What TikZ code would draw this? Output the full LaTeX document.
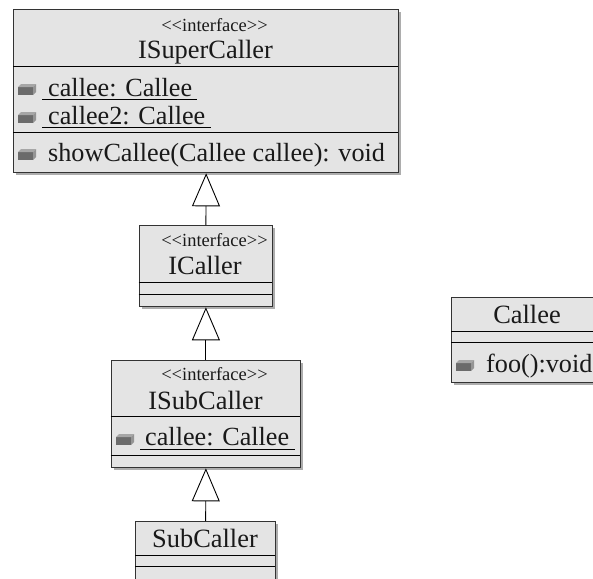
\documentclass[tikz,border=0pt]{standalone}
\usepackage{fontspec}
\setmainfont{Liberation Serif}[Ligatures=NoCommon]
\usetikzlibrary{arrows.meta}
\definecolor{boxfill}{gray}{0.895}
\definecolor{shadowc}{gray}{0.68}
\definecolor{edgec}{gray}{0.2}
\tikzset{
  umlbox/.style={draw=edgec,line width=1.3pt,fill=boxfill,rectangle,inner sep=0pt,anchor=north west},
  divider/.style={line width=0.9pt,black},
  inherit/.style={line width=0.9pt,black,-{Triangle[open,length=33pt,width=28pt,fill=white]}},
  nametext/.style={font=\fontsize{26.4}{26.4}\selectfont,inner sep=0pt,text=black!90,anchor=base},
  stereo/.style={font=\fontsize{18.5}{18.5}\selectfont,inner sep=0pt,text=black!90,anchor=base},
  member/.style={font=\fontsize{26.2}{26.2}\selectfont,inner sep=0pt,text=black!90,anchor=base west},
  uline/.style={line width=0.9pt,black}
}
\newcommand{\umlicon}[2]{%
  \fill[black!58] (#1,#2) -- (#1+15,#2) -- (#1+15,#2-8) -- (#1,#2-8) -- cycle;
  \fill[black!35] (#1,#2-8) -- (#1+3,#2-11) -- (#1+18,#2-11) -- (#1+15,#2-8) -- cycle;
  \fill[black!42] (#1+15,#2) -- (#1+18,#2-3) -- (#1+18,#2-11) -- (#1+15,#2-8) -- cycle;
}
\newcommand{\umlbox}[5]{% name, x0, y0, x1, y1
  \fill[shadowc] (#2+3,#3+3) rectangle (#4+3,#5+3);
  \node[umlbox,minimum width=#4pt-#2pt,minimum height=#5pt-#3pt] (#1) at (#2,#3) {};
}
\newcommand{\stereotext}{<{}<interface>{}>}
\begin{document}
\begin{tikzpicture}[x=1pt,y=-1pt]
\useasboundingbox (0,0) rectangle (593,578);
\fill[white] (0,0) rectangle (593,578);

% ISuperCaller
\umlbox{super}{13}{9}{398}{172}
\draw[divider] (13,66) -- (398,66);
\draw[divider] (13,132) -- (398,132);
\node[stereo] (superS) at (214.5,31) {\stereotext};
\node[nametext] (superN) at (205.5,58.5) {ISuperCaller};
\umlicon{18}{95}
\node[member] (superA) at (48,96) {callee: Callee};
\draw[uline] (42,99.5) -- (197,99.5);
\umlicon{18}{123}
\node[member] (superB) at (48,124) {callee2: Callee};
\draw[uline] (42,127.5) -- (211,127.5);
\umlicon{18}{160}
\node[member] (superC) at (48,161) {showCallee(Callee callee): void};

% ICaller
\umlbox{caller}{138.5}{225}{272}{306}
\draw[divider] (138.5,282) -- (272,282);
\draw[divider] (138.5,294.5) -- (272,294.5);
\node[stereo] (callerS) at (214.5,246) {\stereotext};
\node[nametext] (callerN) at (205,274) {ICaller};

% ISubCaller
\umlbox{sub}{110.5}{359.5}{300}{467}
\draw[divider] (110.5,416.5) -- (300,416.5);
\draw[divider] (110.5,455.5) -- (300,455.5);
\node[stereo] (subS) at (214.5,380) {\stereotext};
\node[nametext] (subN) at (205.5,409) {ISubCaller};
\umlicon{116}{445}
\node[member] (subA) at (145,445) {callee: Callee};
\draw[uline] (140,449.5) -- (295,449.5);

% SubCaller
\umlbox{subc}{135}{521}{275}{600}
\draw[divider] (135,555) -- (275,555);
\draw[divider] (135,566.5) -- (275,566.5);
\node[nametext] (subcN) at (205,547) {SubCaller};

% Callee
\umlbox{callee}{451}{297}{601}{382}
\draw[divider] (451,331) -- (593,331);
\draw[divider] (451,342.5) -- (593,342.5);
\node[nametext] (calleeN) at (527,323) {Callee};
\umlicon{456}{371}
\node[member] (calleeA) at (486,372) {foo():void};

% Connectors
\draw[inherit] (caller.north) -- (super.south);
\draw[inherit] (sub.north) -- (caller.south);
\draw[inherit] (subc.north) -- (sub.south);
\end{tikzpicture}
\end{document}
